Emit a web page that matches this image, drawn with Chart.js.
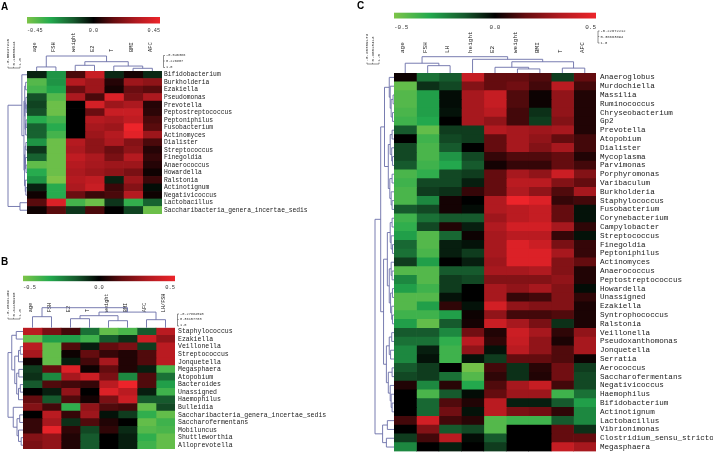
<!DOCTYPE html>
<html><head><meta charset="utf-8">
<script src="https://cdn.jsdelivr.net/npm/chart.js@4.4.0/dist/chart.umd.min.js"></script>
<style>
html,body{margin:0;padding:0;background:#fff;width:713px;height:460px;overflow:hidden}
.p{position:absolute}
</style></head><body>
<div class="p" style="left:0;top:0"><canvas id="cA" width="355" height="230"></canvas></div>
<div class="p" style="left:0;top:230px"><canvas id="cB" width="355" height="230"></canvas></div>
<div class="p" style="left:355px;top:0"><canvas id="cC" width="358" height="460"></canvas></div>
<script>
// ---------------- DATA ----------------
const colsA = ['age','FSH','weight','E2','T','BMI','AFC'];
const rowsA = ['Bifidobacterium','Burkholderia','Ezakiella','Pseudomonas','Prevotella','Peptostreptococcus','Peptoniphilus','Fusobacterium','Actinomyces','Dialister','Streptococcus','Finegoldia','Anaerococcus','Howardella','Ralstonia','Actinotignum','Negativicoccus','Lactobacillus','Saccharibacteria_genera_incertae_sedis'];
const valsA = [
 [-0.05,-0.25,0.10,0.35,-0.06,0.03,-0.06],
 [-0.38,-0.25,0.30,0.25,0.05,0.25,0.22],
 [-0.35,-0.28,0.15,0.25,0.03,0.15,0.12],
 [-0.12,-0.38,0.28,0.10,0.40,0.18,0.28],
 [-0.10,-0.42,0.00,0.38,0.25,0.28,0.05],
 [-0.12,-0.42,0.00,0.15,0.35,0.35,0.06],
 [-0.30,-0.35,0.00,0.30,0.28,0.33,0.10],
 [-0.15,-0.30,0.00,0.27,0.25,0.45,0.12],
 [-0.15,-0.35,0.00,0.25,0.30,0.42,0.25],
 [-0.25,-0.42,0.30,0.22,0.28,0.20,0.10],
 [-0.08,-0.42,0.28,0.22,0.15,0.22,0.05],
 [-0.15,-0.42,0.33,0.28,0.18,0.30,0.07],
 [-0.40,-0.42,0.30,0.27,0.25,0.25,0.05],
 [-0.30,-0.42,0.28,0.25,0.22,0.18,0.02],
 [-0.25,-0.45,0.30,0.33,-0.05,0.25,0.08],
 [-0.05,-0.30,0.28,0.35,0.08,0.20,-0.02],
 [0.02,-0.30,0.15,0.08,0.10,0.30,0.02],
 [0.12,0.40,-0.35,-0.42,-0.08,-0.32,-0.15],
 [0.02,0.12,-0.08,0.10,0.00,-0.10,-0.42]
];
const barTicksA = ['-0.45','0.0','0.45'];
const colScaleA = ['-0.546386','0.226807','1.0'];
const rowScaleA = ['-0.66927216','0.16508343','1.0'];
const colTreeA = [1,[0.27,0,1],[0.62,[0.38,2,3],[0.33,4,[0.18,5,6]]]];
const rowTreeA = [1,[0.27,0,[0.16,[0.12,[0.07,1,2],[0.1,[0.06,3,[0.04,4,5]],[0.07,[0.05,6,7],8]]],[0.13,[0.1,[0.06,9,10],[0.08,11,[0.05,12,13]]],[0.09,14,[0.06,15,16]]]]],[0.37,17,18]];

const colsB = ['age','FSH','E2','T','weight','BMI','AFC','LH/FSH'];
const rowsB = ['Staphylococcus','Ezakiella','Veillonella','Streptococcus','Jonquetella','Megasphaera','Atopobium','Bacteroides','Unassigned','Haemophilus','Bulleidia','Saccharibacteria_genera_incertae_sedis','Saccharofermentans','Mobiluncus','Shuttleworthia','Alloprevotella'];
const valsB = [
 [0.35,0.20,0.10,-0.20,-0.45,-0.40,-0.15,0.35],
 [-0.45,-0.30,-0.30,-0.38,-0.15,-0.08,0.40,0.25],
 [0.35,-0.45,0.12,-0.05,0.15,0.20,-0.10,0.35],
 [0.30,-0.45,0.02,0.15,0.08,0.05,0.12,0.35],
 [0.02,-0.45,-0.05,0.10,0.30,0.05,0.12,0.35],
 [-0.10,0.15,0.45,0.02,0.15,0.05,-0.05,-0.40],
 [-0.08,-0.25,0.30,0.40,0.20,-0.25,0.12,-0.20],
 [-0.15,0.12,0.10,0.08,0.35,0.50,0.12,-0.30],
 [0.00,-0.05,0.25,0.00,0.45,0.35,-0.05,-0.38],
 [0.15,-0.15,0.12,0.03,0.20,0.40,-0.15,-0.15],
 [0.22,0.10,-0.35,0.25,0.12,0.10,-0.45,-0.12],
 [0.00,0.35,0.08,0.28,-0.03,-0.10,-0.35,-0.45],
 [0.08,0.30,-0.08,0.12,0.05,0.00,-0.45,-0.38],
 [0.08,0.48,0.07,-0.12,0.07,-0.07,-0.42,-0.40],
 [0.22,0.25,0.05,-0.15,0.00,-0.05,-0.35,-0.45],
 [0.20,0.25,0.05,-0.15,0.00,-0.05,-0.38,-0.45]
];
const barTicksB = ['-0.5','0.0','0.5'];
const colScaleB = ['-0.27884593','0.36157703','1.0'];
const rowScaleB = ['-0.20321469','0.34489290','1.0'];
const colTreeB = [1,[0.55,0,1],[0.78,[0.6,[0.45,2,3],[0.35,4,5]],[0.4,6,7]]];
const rowTreeB = [1,[0.75,[0.45,0,1],[0.55,[0.3,[0.18,2,3],4],[0.42,[0.28,5,6],[0.3,[0.18,7,8],9]]]],[0.65,10,[0.4,[0.22,11,12],[0.3,13,[0.12,14,15]]]]];

const colsC = ['age','FSH','LH','height','E2','weight','BMI','T','AFC'];
const rowsC = ['Anaeroglobus','Murdochiella','Massilia','Ruminococcus','Chryseobacterium','Gp2','Prevotella','Atopobium','Dialister','Mycoplasma','Parvimonas','Porphyromonas','Varibaculum','Burkholderia','Staphylococcus','Fusobacterium','Corynebacterium','Campylobacter','Streptococcus','Finegoldia','Peptoniphilus','Actinomyces','Anaerococcus','Peptostreptococcus','Howardella','Unassigned','Ezakiella','Syntrophococcus','Ralstonia','Veillonella','Pseudoxanthomonas','Jonquetella','Serratia','Aerococcus','Saccharofermentans','Negativicoccus','Haemophilus','Bifidobacterium','Actinotignum','Lactobacillus','Vibrionimonas','Clostridium_sensu_stricto','Megasphaera'];
const valsC = [
 [0.02,-0.20,-0.15,0.38,0.15,0.15,0.12,-0.10,0.15],
 [-0.45,-0.08,-0.12,0.22,0.15,0.18,0.10,0.35,0.10],
 [-0.42,-0.30,-0.02,0.30,0.38,0.12,0.02,0.25,0.05],
 [-0.42,-0.30,-0.02,0.30,0.38,0.12,0.02,0.25,0.05],
 [-0.40,-0.30,-0.03,0.30,0.35,0.10,-0.08,0.25,0.05],
 [-0.38,-0.32,0.00,0.30,0.25,0.10,-0.10,0.22,0.05],
 [-0.15,-0.45,-0.10,-0.10,0.33,0.30,0.28,0.30,0.05],
 [0.00,-0.38,-0.12,-0.10,0.15,0.30,0.25,0.15,0.10],
 [-0.12,-0.40,-0.15,0.00,0.15,0.30,0.22,0.30,0.10],
 [-0.12,-0.40,-0.28,-0.12,0.08,0.12,0.12,0.15,0.05],
 [-0.15,-0.38,-0.32,-0.15,0.03,0.08,0.08,0.15,0.10],
 [-0.40,-0.35,-0.12,-0.10,0.15,0.30,0.25,0.40,0.22],
 [-0.38,-0.12,-0.12,-0.05,0.15,0.35,0.35,0.22,0.15],
 [-0.40,-0.10,-0.08,0.08,0.15,0.32,0.25,0.12,0.30],
 [-0.40,-0.25,0.03,0.00,0.32,0.50,0.45,0.08,0.10],
 [-0.15,-0.12,0.03,-0.02,0.32,0.35,0.38,0.15,-0.03],
 [-0.38,-0.20,-0.15,-0.15,0.28,0.35,0.38,0.15,-0.03],
 [-0.35,-0.12,0.05,-0.05,0.32,0.42,0.42,0.30,0.07],
 [-0.30,-0.42,-0.18,0.02,0.30,0.35,0.35,0.08,-0.03],
 [-0.18,-0.42,-0.05,-0.03,0.30,0.45,0.40,0.20,0.08],
 [-0.20,-0.40,-0.05,-0.10,0.30,0.45,0.45,0.30,0.08],
 [-0.10,-0.30,0.00,-0.05,0.28,0.45,0.45,0.22,0.15],
 [-0.42,-0.42,-0.15,-0.15,0.30,0.30,0.32,0.22,0.05],
 [-0.25,-0.42,-0.10,-0.12,0.22,0.22,0.22,0.25,0.05],
 [-0.30,-0.38,-0.10,0.00,0.30,0.25,0.30,0.22,-0.02],
 [-0.42,-0.42,-0.03,0.00,0.30,0.08,0.10,0.22,0.07],
 [-0.42,-0.30,0.07,-0.03,0.42,0.25,0.22,0.22,0.04],
 [-0.38,-0.38,-0.30,0.02,0.25,0.10,0.10,0.12,0.04],
 [-0.30,-0.45,-0.15,0.03,0.40,0.30,0.20,-0.08,0.04],
 [-0.15,-0.15,-0.25,0.18,0.05,0.40,0.30,0.07,0.25],
 [-0.20,-0.20,-0.35,0.35,0.07,0.38,0.25,0.04,0.30],
 [-0.25,-0.05,-0.38,0.25,-0.03,0.35,0.25,0.12,0.30],
 [-0.25,-0.03,-0.38,-0.03,-0.10,0.15,0.15,0.12,0.02],
 [-0.15,-0.10,0.00,-0.48,0.10,-0.08,0.06,0.18,-0.10],
 [-0.12,-0.10,-0.20,-0.42,0.07,-0.08,0.05,0.18,-0.12],
 [0.05,-0.25,0.06,-0.32,0.12,0.30,0.38,0.10,-0.12],
 [0.00,-0.40,-0.15,-0.02,0.15,0.28,0.28,-0.38,-0.20],
 [0.00,-0.18,0.12,0.05,0.35,-0.05,-0.05,-0.15,-0.30],
 [0.00,-0.18,0.18,-0.03,0.35,0.20,0.18,0.07,-0.25],
 [0.10,0.42,0.10,0.06,-0.42,-0.38,-0.38,-0.15,-0.25],
 [0.00,0.22,-0.15,-0.12,-0.42,0.00,0.00,0.15,-0.08],
 [-0.10,0.10,0.35,-0.02,-0.15,0.00,0.00,0.15,0.15],
 [-0.25,0.00,-0.05,0.00,-0.10,0.00,0.00,0.38,0.30]
];
const barTicksC = ['-0.5','0.0','0.5'];
const colScaleC = ['-0.22672212','0.38663894','1.0'];
const rowScaleC = ['-0.26789173','0.38615413','1.0'];
const colTreeC = [1,[0.6,0,[0.45,1,2]],[0.84,3,[0.69,[0.35,4,[0.25,5,6]],[0.3,7,8]]]];
const rowTreeC = [1,
  [0.7,
    [0.5,[0.25,0,[0.2,1,[0.15,[0.05,2,3],[0.08,4,5]]]],
         [0.3,[0.2,[0.1,6,7],[0.12,8,[0.08,9,10]]],[0.22,[0.1,11,12],[0.15,13,[0.1,14,15]]]]],
    [0.55,[0.35,[0.2,[0.1,16,17],[0.15,18,[0.08,19,20]]],[0.25,[0.15,21,[0.1,22,23]],[0.18,[0.08,24,25],[0.12,26,[0.08,27,28]]]]],
          [0.4,[0.25,[0.12,29,30],[0.18,31,32]],[0.3,[0.1,33,34],[0.2,35,[0.15,36,[0.1,37,38]]]]]]],
  [0.6,[0.35,39,40],[0.4,41,42]]];

// ---------------- STYLE ----------------
const NEG = [[0,[0,0,0]],[0.3,[22,90,45]],[0.65,[35,170,78]],[1,[125,196,72]]];
const POS = [[0,[0,0,0]],[0.3,[100,12,15]],[0.65,[178,26,32]],[1,[237,36,42]]];
const MONO = "'Liberation Mono','DejaVu Sans Mono',monospace";
const TREE_COLOR = '#6a6ea8';

function colorFor(t){
  t = Math.max(-1, Math.min(1, t));
  const st = t < 0 ? NEG : POS, a = Math.abs(t);
  for (let k = 1; k < st.length; k++){
    if (a <= st[k][0]){
      const f = (a - st[k-1][0])/(st[k][0]-st[k-1][0]);
      const c = st[k-1][1].map((v,i)=>Math.round(v + f*(st[k][1][i]-v)));
      return `rgb(${c[0]},${c[1]},${c[2]})`;
    }
  }
  const c = st[st.length-1][1]; return `rgb(${c[0]},${c[1]},${c[2]})`;
}

function drawTree(ctx, node, leafPos, hPix, orient){
  if (typeof node === 'number') return {p: leafPos(node), h: 0};
  const h = node[0];
  const a = drawTree(ctx, node[1], leafPos, hPix, orient);
  const b = drawTree(ctx, node[2], leafPos, hPix, orient);
  ctx.beginPath();
  if (orient === 'col'){
    ctx.moveTo(a.p, hPix(a.h)); ctx.lineTo(a.p, hPix(h)); ctx.lineTo(b.p, hPix(h)); ctx.lineTo(b.p, hPix(b.h));
  } else {
    ctx.moveTo(hPix(a.h), a.p); ctx.lineTo(hPix(h), a.p); ctx.lineTo(hPix(h), b.p); ctx.lineTo(hPix(b.h), b.p);
  }
  ctx.stroke();
  return {p:(a.p+b.p)/2, h};
}

function drawScaleLegend(ctx, x, y, texts, rotate, size){
  ctx.save();
  ctx.translate(x, y);
  if (rotate) ctx.rotate(-Math.PI/2);
  ctx.strokeStyle = '#444'; ctx.lineWidth = 0.6;
  ctx.beginPath();
  ctx.moveTo(1.5,0); ctx.lineTo(0,0); ctx.lineTo(0,12); ctx.lineTo(1.5,12);
  ctx.moveTo(0,5.5); ctx.lineTo(1.2,5.5);
  ctx.stroke();
  ctx.fillStyle = '#333';
  ctx.font = size + 'px ' + MONO;
  ctx.textBaseline = 'middle'; ctx.textAlign = 'left';
  [0,5.5,11.5].forEach((yy,i)=>ctx.fillText(texts[i], 2.5, yy));
  ctx.restore();
}

const decorPlugin = {
  id: 'heatDecor',
  afterDraw(chart, args, o){
    const ctx = chart.ctx, ca = chart.chartArea;
    const xs = chart.scales.x, ys = chart.scales.y;
    ctx.save();
    ctx.fillStyle = '#000';
    ctx.font = 'bold 10px "Liberation Sans", Arial, sans-serif';
    ctx.textBaseline = 'alphabetic'; ctx.textAlign = 'left';
    ctx.fillText(o.letter, o.letterX, o.letterY);
    const bx0 = ca.left, bx1 = ca.right - o.barInset;
    const g = ctx.createLinearGradient(bx0, 0, bx1, 0);
    for (let k = 0; k <= 40; k++){ g.addColorStop(k/40, colorFor(-1 + 2*k/40)); }
    ctx.fillStyle = g;
    ctx.fillRect(bx0, o.barY, bx1 - bx0, o.barH);
    ctx.fillStyle = '#333';
    ctx.font = o.barFont + 'px ' + MONO;
    ctx.textBaseline = 'middle';
    ctx.textAlign = 'left';  ctx.fillText(o.barTicks[0], bx0, o.barLabelY);
    ctx.textAlign = 'center'; ctx.fillText(o.barTicks[1], (bx0+bx1)/2, o.barLabelY);
    ctx.textAlign = 'right'; ctx.fillText(o.barTicks[2], bx1, o.barLabelY);
    ctx.strokeStyle = TREE_COLOR; ctx.lineWidth = 0.9;
    drawTree(ctx, o.colTree, i => xs.getPixelForValue(i + 0.5), h => ca.top - h*o.colD, 'col');
    drawTree(ctx, o.rowTree, i => ys.getPixelForValue(i), h => ca.left - h*o.rowD, 'row');
    drawScaleLegend(ctx, ca.right + o.colLegDX, o.colLegY, o.colScale, false, o.legFont);
    drawScaleLegend(ctx, o.rowLegX, o.rowLegY, o.rowScale, true, o.legFont + 0.4);
    ctx.restore();
  }
};

function buildHeatmap(id, cols, rows, vals, vmax, geo, decor){
  const datasets = cols.map((c, j) => ({
    label: c,
    data: rows.map(() => 1),
    backgroundColor: rows.map((r, i) => colorFor(vals[i][j] / vmax)),
    borderWidth: 0,
    barPercentage: 1,
    categoryPercentage: 1
  }));
  return new Chart(document.getElementById(id), {
    type: 'bar',
    data: { labels: rows, datasets },
    options: {
      indexAxis: 'y',
      responsive: false,
      animation: false,
      events: [],
      layout: { padding: { left: geo.left, bottom: geo.bottom, top: 0, right: 0 } },
      plugins: { legend: { display: false }, tooltip: { enabled: false }, heatDecor: decor },
      scales: {
        x: { type: 'linear', stacked: true, min: 0, max: cols.length, display: false },
        y: {
          type: 'category', stacked: true, position: 'right', offset: true,
          grid: { display: false, drawTicks: false }, border: { display: false },
          ticks: { font: { family: MONO, size: geo.rowFont }, color: '#1a1a1a', padding: geo.rowPad, autoSkip: false },
          afterFit: s => { s.width = geo.yWidth; }
        },
        xTop: {
          type: 'category', axis: 'x', position: 'top', labels: cols, offset: true,
          grid: { display: false, drawTicks: false }, border: { display: false },
          ticks: { font: { family: MONO, size: geo.colFont }, color: '#222', padding: geo.colPad, labelOffset: geo.colShift,
                   minRotation: 90, maxRotation: 90, autoSkip: false },
          afterFit: s => { s.height = geo.topH; }
        }
      }
    },
    plugins: [decorPlugin]
  });
}

buildHeatmap('cA', colsA, rowsA, valsA, 0.45,
  { left: 27, bottom: 16, yWidth: 355 - 162, topH: 71, rowFont: 6.3, rowPad: 2, colFont: 5.4, colPad: 19, colShift: 4.5 },
  { letter: 'A', letterX: 1, letterY: 10, barY: 17, barH: 6.5, barInset: 2, barFont: 5.2, barLabelY: 31, barTicks: barTicksA,
    colTree: colTreeA, rowTree: rowTreeA, colD: 15, rowD: 19,
    colScale: colScaleA, rowScale: rowScaleA, colLegDX: 1.5, colLegY: 55.5, rowLegX: 8, rowLegY: 68, legFont: 3.6 });

buildHeatmap('cB', colsB, rowsB, valsB, 0.5,
  { left: 23, bottom: 11, yWidth: 355 - 175, topH: 97.7, rowFont: 6.5, rowPad: 3, colFont: 5.2, colPad: 15.5, colShift: 4.3 },
  { letter: 'B', letterX: 1, letterY: 35, barY: 45.7, barH: 5.5, barInset: 0, barFont: 5.4, barLabelY: 58, barTicks: barTicksB,
    colTree: colTreeB, rowTree: rowTreeB, colD: 20, rowD: 15,
    colScale: colScaleB, rowScale: rowScaleB, colLegDX: 2.5, colLegY: 84, rowLegX: 8, rowLegY: 89, legFont: 3.6 });

buildHeatmap('cC', colsC, rowsC, valsC, 0.5,
  { left: 39, bottom: 3, yWidth: 358 - 241, topH: 73, rowFont: 7.6, rowPad: 4, colFont: 6, colPad: 20, colShift: 4.8 },
  { letter: 'C', letterX: 2, letterY: 9, barY: 12.7, barH: 5.8, barInset: 0, barFont: 6, barLabelY: 27, barTicks: barTicksC,
    colTree: colTreeC, rowTree: rowTreeC, colD: 16.3, rowD: 19,
    colScale: colScaleC, rowScale: rowScaleC, colLegDX: 2, colLegY: 31, rowLegX: 12, rowLegY: 64, legFont: 3.8 });
</script>
</body></html>
